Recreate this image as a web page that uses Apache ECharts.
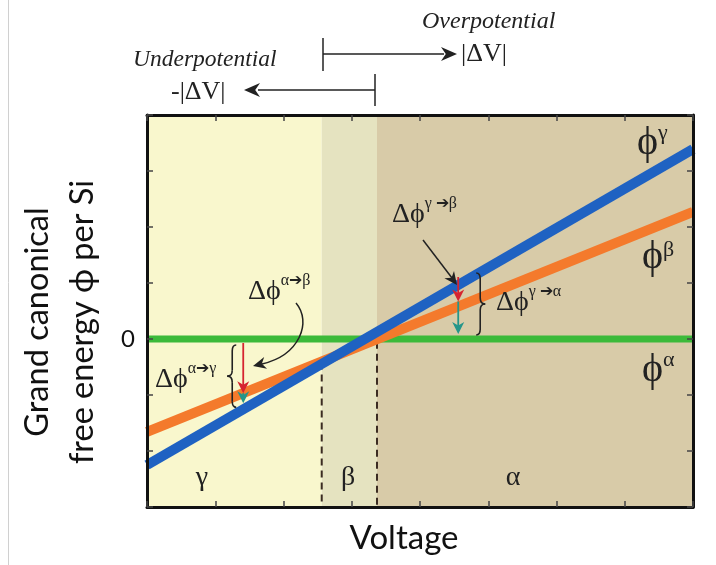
<!DOCTYPE html>
<html>
<head>
<meta charset="utf-8">
<script src="https://cdn.jsdelivr.net/npm/echarts@6/dist/echarts.min.js"></script>
<style>html,body{margin:0;padding:0;background:#fff}#c{width:716px;height:565px}</style>
</head>
<body>
<div id="c"></div>
<script>
// ---- data (axis units: x = voltage 0..8, y = free energy -3..4) ----
var voltage = [0, 8];
var phiAlpha = [0, 0];
var phiBeta = [-1.66, 2.27];
var phiGamma = [-2.25, 3.39];
var phaseBounds = [0, 2.56, 3.37, 8];
var phaseNames = ['γ', 'β', 'α'];
var dashedLines = [[2.56, -0.42], [3.37, -0.05]];
var yTickLabels = {0: '0'};
var arrowLeftX = 1.41;
var arrowRightX = 4.56;

var serif = '"Liberation Serif", "DejaVu Serif", serif';
var sans = 'Lato, "Open Sans", "Liberation Sans", sans-serif';

var chart = echarts.init(document.getElementById('c'), null, {renderer: 'canvas'});

function pairs(xs, ys) { return xs.map(function (x, i) { return [x, ys[i]]; }); }
function valAt(arr, x) { return arr[0] + (arr[1] - arr[0]) * (x - voltage[0]) / (voltage[1] - voltage[0]); }

var phaseColors = ['#f9f7cd', '#e5e3c0', '#d8cba8'];
var areas = [];
for (var i = 0; i < 3; i++) {
  areas.push([{xAxis: phaseBounds[i], itemStyle: {color: phaseColors[i]}}, {xAxis: phaseBounds[i + 1]}]);
}

var axisCommon = {
  type: 'value', min: 0, max: 8, interval: 1, z: 10,
  axisLine: {show: true, onZero: false, lineStyle: {color: '#111', width: 3}},
  axisTick: {show: true, inside: true, length: 6, lineStyle: {color: '#444', width: 1.5}},
  axisLabel: {show: false}, splitLine: {show: false}
};
var yCommon = {
  type: 'value', min: -3, max: 4, interval: 1, z: 10,
  axisLine: {show: true, onZero: false, lineStyle: {color: '#111', width: 3}},
  axisTick: {show: true, inside: true, length: 6, lineStyle: {color: '#444', width: 1.5}},
  splitLine: {show: false}
};

var option = {
  animation: false,
  grid: {left: 147, top: 115, width: 546, height: 392, containLabel: false},
  xAxis: [
    Object.assign({}, axisCommon, {position: 'bottom'}),
    Object.assign({}, axisCommon, {position: 'top'})
  ],
  yAxis: [
    Object.assign({}, yCommon, {position: 'left',
      axisLabel: {show: true, margin: 12, fontSize: 24, color: '#111', fontFamily: sans,
        formatter: function (v) { return yTickLabels[v] !== undefined ? yTickLabels[v] : ''; }}}),
    Object.assign({}, yCommon, {position: 'right', axisLabel: {show: false}})
  ],
  series: [
    {type: 'line', data: [], markArea: {silent: true, data: areas}, z: 1},
    {type: 'line', data: pairs(voltage, phiAlpha), symbol: 'none', lineStyle: {color: '#3cba3a', width: 7}, z: 3},
    {type: 'line', data: pairs(voltage, phiBeta), symbol: 'none', lineStyle: {color: '#f47a2c', width: 10}, z: 4},
    {type: 'line', data: pairs(voltage, phiGamma), symbol: 'none', lineStyle: {color: '#1f62c2', width: 10}, z: 5}
  ].concat(dashedLines.map(function (d) {
    return {type: 'line', data: [[d[0], d[1]], [d[0], -3]], symbol: 'none', z: 2,
      lineStyle: {color: '#3b2c22', width: 2, type: [7, 5]}};
  }))
};
chart.setOption(option);

function px(x, y) { return chart.convertToPixel({gridIndex: 0}, [x, y]); }

var mctx = document.createElement('canvas').getContext('2d');
function measure(s, size, font, italic) {
  mctx.font = (italic ? 'italic ' : '') + size + 'px ' + font;
  return mctx.measureText(s).width;
}

var g = [];
function txt(x, y, s, size, opts) {
  opts = opts || {};
  g.push({type: 'text', x: x, y: y, z: 100, rotation: opts.rotation || 0,
    style: {text: s, fontSize: size, fontFamily: opts.font || serif, fontStyle: opts.italic ? 'italic' : 'normal',
      fill: opts.color || '#222', align: opts.align || 'left', verticalAlign: opts.va || 'middle',
      lineHeight: opts.lineHeight}});
}
function supText(x, y, main, sup, size, supSize, supDy, gap) {
  txt(x, y, main, size);
  var w = measure(main, size, serif);
  txt(x + w + (gap || 0), y - supDy, sup, supSize);
}
function line(x1, y1, x2, y2, color, width) {
  g.push({type: 'line', z: 100, shape: {x1: x1, y1: y1, x2: x2, y2: y2}, style: {stroke: color, lineWidth: width}});
}
function quad(x1, y1, cx, cy, x2, y2) {
  g.push({type: 'bezierCurve', z: 100, shape: {x1: x1, y1: y1, cpx1: cx, cpy1: cy, x2: x2, y2: y2},
    style: {stroke: '#222', lineWidth: 1.6, fill: null}});
}
function head(tx, ty, dirx, diry, len, half, color) {
  var nx = -diry, ny = dirx;
  var bx = tx - dirx * len, by = ty - diry * len;
  var mx = tx - dirx * len * 0.7, my = ty - diry * len * 0.7;
  g.push({type: 'polygon', z: 101, shape: {points: [[tx, ty], [bx + nx * half, by + ny * half], [mx, my], [bx - nx * half, by - ny * half]]},
    style: {fill: color}});
}
function vArrow(x, y1, y2, color) {
  line(x, y1, x, y2 - 6, color, 1.8);
  head(x, y2, 0, 1, 12, 6, color);
}
// curly brace, vertical, from y1 to y2 at x, tip pointing in direction dir (-1 left, +1 right)
function brace(x, y1, y2, dir) {
  var m = (y1 + y2) / 2, d = dir * 5, e = dir * 4;
  quad(x - e, y1, x, y1, x, y1 + 6);
  line(x, y1 + 6, x, m - 6, '#222', 1.6);
  quad(x, m - 6, x, m, x + d, m);
  quad(x + d, m, x, m, x, m + 6);
  line(x, m + 6, x, y2 - 6, '#222', 1.6);
  quad(x, y2 - 6, x, y2, x - e, y2);
}

// top annotations
txt(422, 22, 'Overpotential', 24, {italic: true});
txt(461, 54, '|ΔV|', 26);
line(323, 38, 323, 71, '#222', 1.5);
line(323, 54, 444, 54, '#222', 1.5);
head(457, 54, 1, 0, 16, 7, '#222');
txt(133, 60, 'Underpotential', 23.5, {italic: true});
txt(171, 92, '-|ΔV|', 26);
line(375, 74, 375, 106, '#222', 1.5);
line(375, 90, 258, 90, '#222', 1.5);
head(244, 90, -1, 0, 16, 7, '#222');

// phase line labels
supText(637, 143, 'ϕ', 'γ', 40, 22, 10, 0);
supText(642, 257, 'ϕ', 'β', 40, 22, 7, 0);
supText(642, 370, 'ϕ', 'α', 40, 22, 10, 0);

// phase region labels
for (var k = 0; k < 3; k++) {
  var cx = [202, 348, 513][k];
  txt(cx, 478, phaseNames[k], 28, {align: 'center'});
}

// axis titles
txt(404, 538, 'Voltage', 33, {font: sans, align: 'center', color: '#111'});
txt(60, 322, 'Grand canonical\nfree energy ϕ per Si', 32.5, {font: sans, align: 'center', rotation: Math.PI / 2, color: '#111', lineHeight: 45});

// difference arrows (left)
var L0 = px(arrowLeftX, 0), L1 = px(arrowLeftX, valAt(phiBeta, arrowLeftX)), L2 = px(arrowLeftX, valAt(phiGamma, arrowLeftX));
vArrow(L0[0], L0[1] + 4, L1[1], '#d62430');
vArrow(L1[0], L1[1], L2[1] - 6, '#25968a');
brace(L0[0] - 11, L0[1] + 6, L2[1] - 2, -1);
supText(155, 380, 'Δϕ', 'α➔γ', 28, 16, 11, 0);
supText(248, 292, 'Δϕ', 'α➔β', 28, 16, 11, 0);
g.push({type: 'bezierCurve', z: 100, shape: {x1: 296, y1: 303, cpx1: 312, cpy1: 322, cpx2: 300, cpy2: 355, x2: 262, y2: 364},
  style: {stroke: '#222', lineWidth: 1.5, fill: null}});
head(253, 366, -0.97, 0.24, 13, 6, '#222');

// difference arrows (right)
var R2 = px(arrowRightX, valAt(phiGamma, arrowRightX)), R1 = px(arrowRightX, valAt(phiBeta, arrowRightX)), R0 = px(arrowRightX, 0);
vArrow(R2[0], R2[1] - 8, R1[1] - 5, '#d62430');
vArrow(R1[0], R1[1] - 5, R0[1] - 5, '#25968a');
brace(R0[0] + 22, R2[1] - 12, R0[1] - 4, 1);
supText(392, 215, 'Δϕ', 'γ ➔β', 28, 16, 11, 0);
line(423, 240, 452, 278, '#222', 1.5);
head(457, 285, 0.6, 0.8, 13, 6, '#222');
supText(496, 303, 'Δϕ', 'γ ➔α', 28, 16, 11, 0);

// faint left page border
line(8.5, 0, 8.5, 565, '#d0d0d0', 1);

chart.setOption({graphic: {elements: g}});
</script>
</body>
</html>
